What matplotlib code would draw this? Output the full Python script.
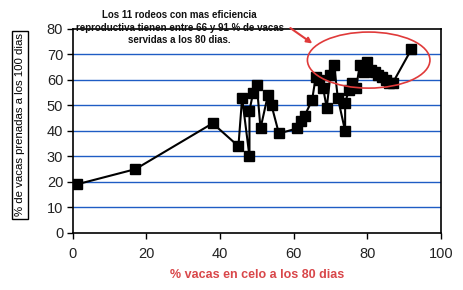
import matplotlib
matplotlib.use("Agg")
import matplotlib.pyplot as plt
from matplotlib.patches import Ellipse

plt.rcParams["font.family"] = ["Liberation Sans", "DejaVu Sans"]

# % vacas en celo a los 80 dias vs % de vacas preñadas a los 100 dias
celo_80 = [1, 17, 38, 45, 46, 48, 48, 49, 50, 51, 53, 54, 56, 61, 62, 63,
           65, 66, 67, 68, 69, 70, 71, 72, 74, 74, 75, 76, 77, 78, 79, 80,
           81, 82, 83, 84, 85, 86, 87, 92]
prenadas_100 = [19, 25, 43, 34, 53, 30, 48, 55, 58, 41, 54, 50, 39, 41, 44, 46,
                52, 61, 60, 57, 49, 62, 66, 53, 40, 51, 56, 59, 57, 66, 63, 67,
                64, 63, 62, 61, 60, 59, 59, 72]

x_ticks = [0, 20, 40, 60, 80, 100]
y_ticks = [0, 10, 20, 30, 40, 50, 60, 70, 80]

nota = ("Los 11 rodeos con mas eficiencia\n"
        "reproductiva tienen entre 66 y 91 % de vacas\n"
        "servidas a los 80 dias.")

fig = plt.figure(figsize=(4.64, 2.9), dpi=100)
ax = fig.add_axes([0.157, 0.197, 0.793, 0.703])

for g in y_ticks[1:-1]:
    ax.axhline(g, color="#1f5cc4", lw=1.0, zorder=1)

ax.plot(celo_80, prenadas_100, color="black", lw=1.5, marker="s",
        markersize=6.5, markerfacecolor="black", zorder=3)

ax.set_xlim(0, 100)
ax.set_ylim(0, 80)
ax.set_xticks(x_ticks)
ax.set_yticks(y_ticks)
ax.tick_params(direction="out", length=4, width=1, labelsize=10.5,
               labelcolor="#222222")
ax.tick_params(axis="x", pad=6)
ax.tick_params(axis="y", pad=3)
for s in ax.spines.values():
    s.set_color("black")
    s.set_linewidth(1.2)

ax.set_xlabel("% vacas en celo a los 80 dias", color="#d9474a",
              fontsize=9, fontweight="bold", labelpad=6)
fig.text(0.043, 0.569, "% de vacas prenadas a los 100 dias", rotation=90,
         ha="center", va="center", fontsize=8.2,
         bbox=dict(boxstyle="square,pad=0.25", fc="white", ec="black", lw=1))

ell = Ellipse((80.4, 67.8), 33.3, 22, fill=False, ec="#e03a3a", lw=1.2,
              zorder=4)
ax.add_patch(ell)
ax.annotate("", xy=(65.7, 73.7), xytext=(58.5, 81.0),
            arrowprops=dict(arrowstyle="-|>", color="#e03a3a", lw=1.5,
                            mutation_scale=8),
            annotation_clip=False, zorder=5)

fig.text(0.387, 0.905, nota, ha="center", va="center", fontsize=7,
         fontweight="bold", linespacing=1.35, color="#111111")

fig.savefig("out.png", dpi=100)
